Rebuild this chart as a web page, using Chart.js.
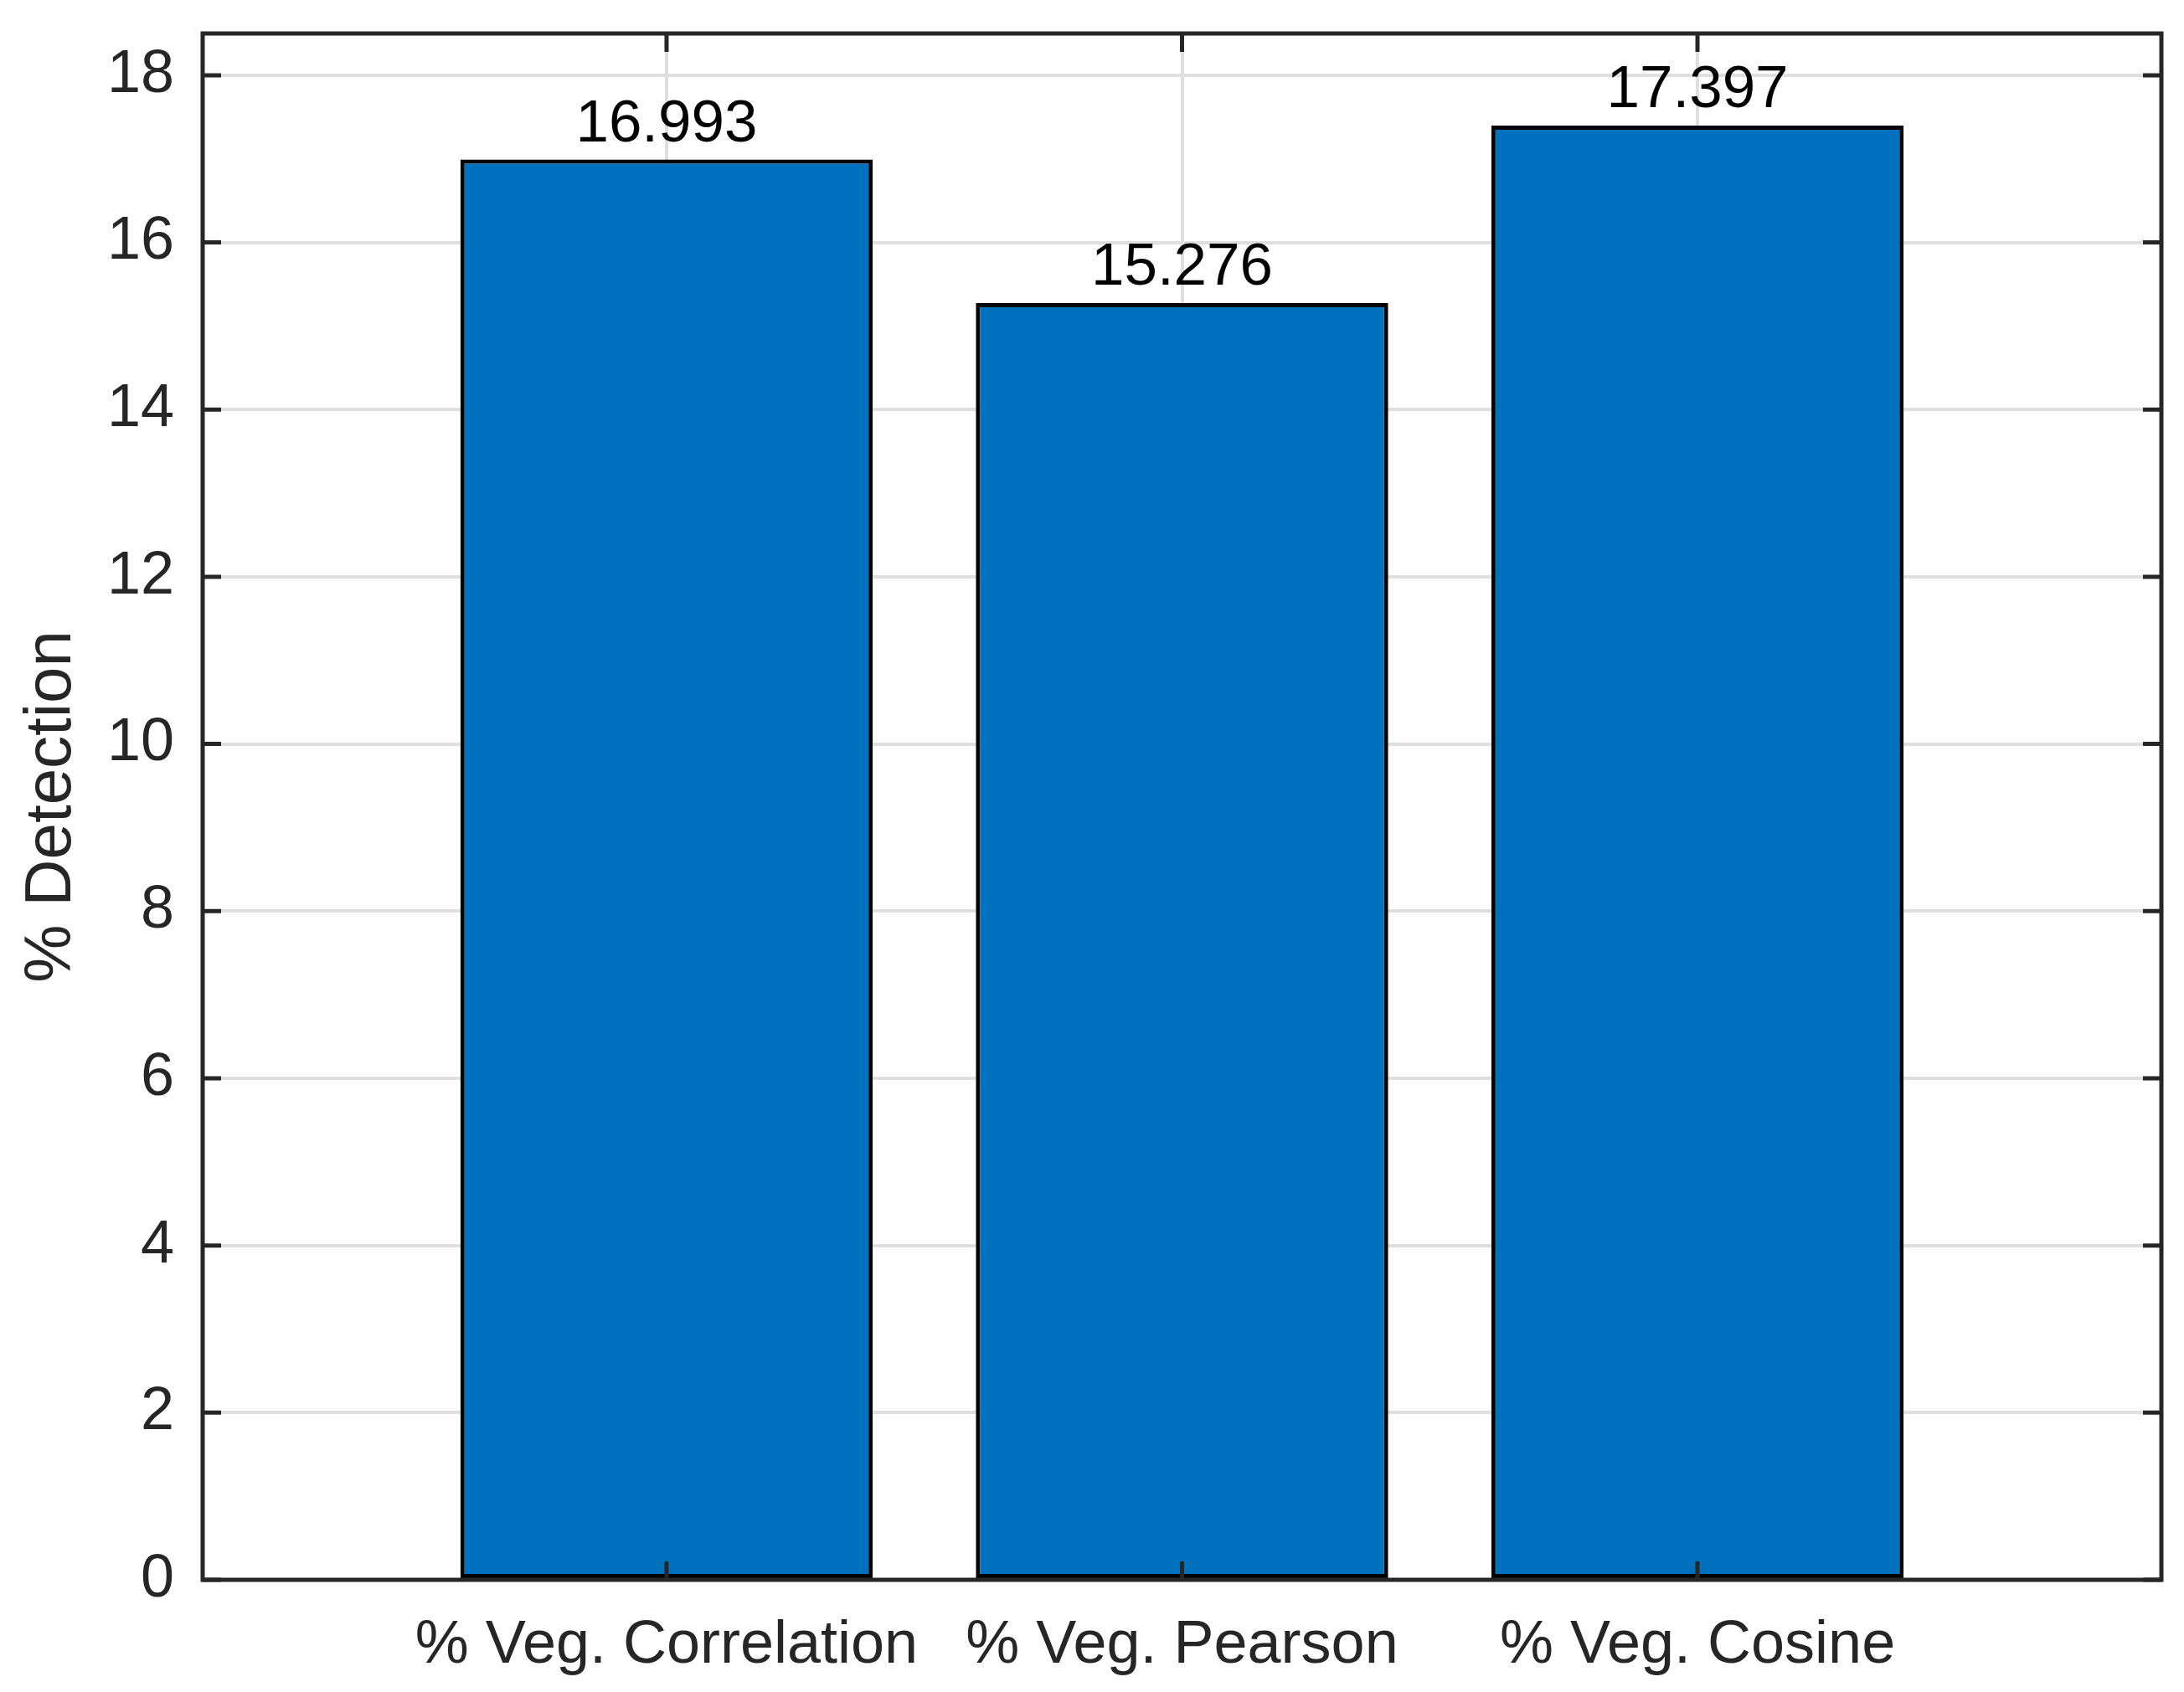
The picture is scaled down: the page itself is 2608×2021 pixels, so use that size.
<!DOCTYPE html>
<html>
<head>
<meta charset="utf-8">
<script src="https://cdn.jsdelivr.net/npm/chart.js@4.4.1/dist/chart.umd.min.js"></script>
<style>
  html, body { margin: 0; padding: 0; background: #fff; }
  #wrap { width: 2608px; height: 2021px; }
</style>
</head>
<body>
<div id="wrap"><canvas id="barChart" width="2608" height="2021"></canvas></div>
<script>
const categories = ['% Veg. Correlation', '% Veg. Pearson', '% Veg. Cosine'];
const detection = [16.993, 15.276, 17.397];
const yTicks = [0, 2, 4, 6, 8, 10, 12, 14, 16, 18];

const FONT = "'Liberation Sans', Arial, Helvetica, sans-serif";
const AXIS = '#262626';

// box around plot + inward tick marks, like the matlab axes
const boxPlugin = {
  id: 'box',
  afterDraw(chart) {
    const { ctx, chartArea: a, scales } = chart;
    ctx.save();
    ctx.strokeStyle = AXIS;
    ctx.lineWidth = 5;
    ctx.beginPath();
    yTicks.forEach(v => {
      const y = scales.y.getPixelForValue(v);
      ctx.moveTo(a.left, y); ctx.lineTo(a.left + 22, y);
      ctx.moveTo(a.right, y); ctx.lineTo(a.right - 22, y);
    });
    categories.forEach((c, i) => {
      const x = scales.x.getPixelForValue(i + 1);
      ctx.moveTo(x, a.bottom); ctx.lineTo(x, a.bottom - 22);
      ctx.moveTo(x, a.top); ctx.lineTo(x, a.top + 22);
    });
    ctx.stroke();
    ctx.strokeRect(a.left, a.top, a.right - a.left, a.bottom - a.top);
    ctx.restore();
  }
};

// value labels over the bars
const valuePlugin = {
  id: 'values',
  afterDatasetsDraw(chart) {
    const { ctx } = chart;
    const meta = chart.getDatasetMeta(0);
    ctx.save();
    ctx.fillStyle = '#000';
    ctx.font = '71px ' + FONT;
    ctx.textAlign = 'center';
    ctx.textBaseline = 'bottom';
    meta.data.forEach((bar, i) => {
      ctx.fillText(detection[i].toFixed(3), bar.x, bar.y - 6);
    });
    ctx.restore();
  }
};

new Chart(document.getElementById('barChart'), {
  type: 'bar',
  data: {
    datasets: [{
      data: detection.map((v, i) => ({ x: i + 1, y: v })),
      backgroundColor: '#0072BD',
      borderColor: '#000',
      borderWidth: 5,
      borderSkipped: false,
      categoryPercentage: 1,
      barPercentage: 0.8
    }]
  },
  options: {
    responsive: false,
    animation: false,
    devicePixelRatio: 1,
    layout: { padding: { top: 40, right: 27, left: 0, bottom: 0 } },
    plugins: { legend: { display: false }, tooltip: { enabled: false } },
    scales: {
      x: {
        type: 'linear',
        min: 0.1,
        max: 3.9,
        offset: false,
        afterBuildTicks: s => { s.ticks = categories.map((c, i) => ({ value: i + 1 })); },
        afterFit: s => { s.height = 134; s.paddingLeft = 0; s.paddingRight = 0; },
        grid: { color: '#dfdfdf', lineWidth: 4, drawTicks: false, offset: false },
        border: { display: false },
        ticks: {
          callback: v => categories[v - 1],
          color: AXIS,
          font: { family: FONT, size: 72 },
          padding: 36,
          maxRotation: 0,
          autoSkip: false
        }
      },
      y: {
        min: 0,
        max: 18.5,
        afterFit: s => { s.width = 242; s.paddingTop = 0; s.paddingBottom = 0; },
        grid: { color: '#dfdfdf', lineWidth: 4, drawTicks: false },
        border: { display: false },
        ticks: {
          stepSize: 2,
          includeBounds: false,
          color: AXIS,
          font: { family: FONT, size: 72 },
          padding: 34
        },
        title: {
          display: true,
          text: '% Detection',
          color: AXIS,
          font: { family: FONT, size: 78 },
          padding: { top: 16, bottom: 0 }
        }
      }
    }
  },
  plugins: [boxPlugin, valuePlugin]
});
</script>
</body>
</html>
